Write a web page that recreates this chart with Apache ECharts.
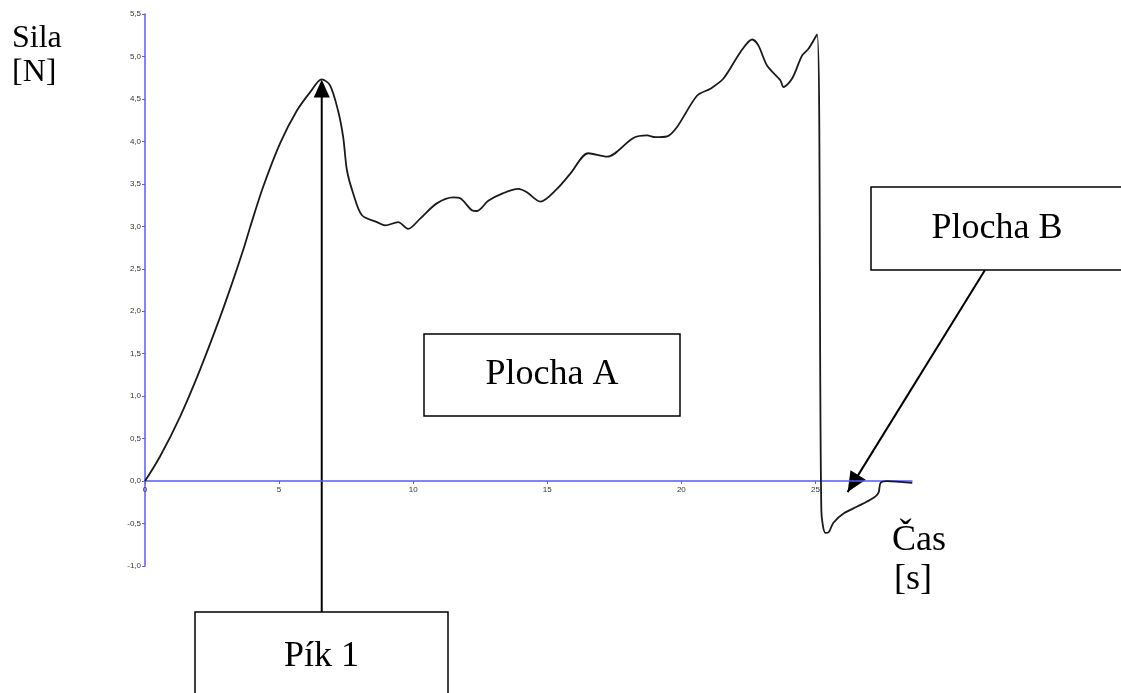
<!DOCTYPE html>
<html>
<head>
<meta charset="utf-8">
<script src="https://cdn.jsdelivr.net/npm/echarts@6/dist/echarts.min.js"></script>
<style>
  html, body { margin: 0; padding: 0; background: #fff; }
  #chart { width: 1121px; height: 693px; }
</style>
</head>
<body>
<div id="chart"></div>
<script>
// cas [s]
var timeS = [0, 0.56, 1.31, 2.05, 2.80, 3.28, 3.66, 3.92, 4.40, 5.04, 5.66, 6.16, 6.59, 6.90,
  7.20, 7.39, 7.53, 7.76, 8.09, 8.65, 8.96, 9.44, 9.81, 10.26, 10.88, 11.50, 11.75, 12.19,
  12.38, 12.80, 13.36, 13.92, 14.24, 14.74, 15.36, 15.86, 16.53, 17.23, 18.21, 18.72, 19.03,
  19.47, 19.84, 20.59, 21.08, 21.57, 22.20, 22.64, 22.87, 23.20, 23.69, 23.81, 24.13, 24.50,
  24.74, 25.06, 25.22, 25.37, 25.50, 25.67, 26.06, 26.56, 26.93, 27.24, 27.36, 27.43, 27.68,
  28.17, 28.61];
// sila [N]
var forceN = [0, 0.29, 0.76, 1.31, 1.93, 2.36, 2.72, 2.99, 3.46, 3.98, 4.36, 4.58, 4.73, 4.66,
  4.36, 4.05, 3.66, 3.39, 3.13, 3.05, 3.01, 3.05, 2.97, 3.09, 3.27, 3.34, 3.33, 3.19,
  3.18, 3.30, 3.39, 3.44, 3.40, 3.29, 3.44, 3.62, 3.86, 3.82, 4.04, 4.07, 4.05,
  4.06, 4.17, 4.54, 4.62, 4.74, 5.05, 5.20, 5.13, 4.89, 4.72, 4.64, 4.74, 5.01,
  5.09, 5.26, -0.35, -0.61, -0.60, -0.49, -0.38, -0.30, -0.24, -0.18, -0.13, -0.02, 0.0,
  -0.01, -0.02];
var xTicks = [0, 5, 10, 15, 20, 25];

// body grafu, na ktere miri sipky
var peak1 = [6.59, 4.73];
var areaB = [26.2, -0.13];

var axisBlue = '#5a5aff';
var serif = '"Liberation Serif", "DejaVu Serif", serif';

var chart = echarts.init(document.getElementById('chart'));

var points = timeS.map(function (t, i) { return [t, forceN[i]]; });

chart.setOption({
  animation: false,
  grid: { left: 145, top: 14, right: 209, bottom: 127 },
  xAxis: {
    type: 'value',
    min: 0,
    max: 28.6,
    interval: 5,
    position: 'bottom',
    offset: -85,   // osa x lezi na nule (0 je 85 px nad spodkem gridu)
    axisLine: { onZero: false, lineStyle: { color: axisBlue, width: 1.5 } },
    axisTick: { length: 3, lineStyle: { color: axisBlue } },
    splitLine: { show: false },
    axisLabel: {
      margin: 5,
      fontSize: 8,
      color: '#333',
      fontFamily: 'Liberation Sans, sans-serif',
      showMaxLabel: false,
      formatter: function (v) { return xTicks.indexOf(v) >= 0 ? String(v) : ''; }
    }
  },
  yAxis: {
    type: 'value',
    min: -1,
    max: 5.5,
    interval: 0.5,
    axisLine: { show: true, onZero: false, lineStyle: { color: axisBlue, width: 1.5 } },
    axisTick: { show: true, length: 3, lineStyle: { color: axisBlue } },
    splitLine: { show: false },
    axisLabel: {
      margin: 4,
      fontSize: 8,
      color: '#333',
      fontFamily: 'Liberation Sans, sans-serif',
      formatter: function (v) { return v.toFixed(1).replace('.', ','); }
    }
  },
  series: [{
    type: 'line',
    data: points,
    showSymbol: false,
    smooth: 0.3,
    lineStyle: { color: '#1a1a1a', width: 1.8 }
  }]
});

// anotace - krabicky, popisky a sipky
var tip1 = chart.convertToPixel({ gridIndex: 0 }, peak1);
var tipB = chart.convertToPixel({ gridIndex: 0 }, areaB);

function arrowHead(tip, from, len, half) {
  var dx = tip[0] - from[0], dy = tip[1] - from[1];
  var d = Math.sqrt(dx * dx + dy * dy);
  var ux = dx / d, uy = dy / d;
  var bx = tip[0] - ux * len, by = tip[1] - uy * len;
  return [[tip[0], tip[1]], [bx - uy * half, by + ux * half], [bx + uy * half, by - ux * half]];
}

function box(x, y, w, h, label) {
  return [{
    type: 'rect',
    shape: { x: x, y: y, width: w, height: h },
    style: { fill: '#fff', stroke: '#000', lineWidth: 1.5 }
  }, {
    type: 'text',
    x: x + w / 2,
    y: y + h / 2,
    style: { text: label, font: '36px ' + serif, fill: '#000', align: 'center', verticalAlign: 'middle' }
  }];
}

function label(x, y, txt, size) {
  return {
    type: 'text', x: x, y: y,
    style: { text: txt, font: size + 'px ' + serif, fill: '#000', align: 'left', verticalAlign: 'middle' }
  };
}

var start1 = [tip1[0], 612];
var startB = [985, 270];

var graphics = []
  .concat(box(424, 334, 256, 82, 'Plocha A'))
  .concat(box(871, 187, 252, 83, 'Plocha B'))
  .concat(box(195, 612, 253, 90, 'Pík 1'))
  .concat([
    label(12, 39, 'Sila', 32),
    label(12, 73, '[N]', 32),
    label(892, 541, 'Čas', 36),
    label(894, 580, '[s]', 36),
    {
      type: 'line',
      shape: { x1: start1[0], y1: start1[1], x2: tip1[0], y2: tip1[1] + 10 },
      style: { stroke: '#000', lineWidth: 2 }
    },
    { type: 'polygon', shape: { points: arrowHead(tip1, start1, 18, 8) }, style: { fill: '#000' } },
    {
      type: 'line',
      shape: { x1: startB[0], y1: startB[1], x2: tipB[0], y2: tipB[1] },
      style: { stroke: '#000', lineWidth: 2 }
    },
    { type: 'polygon', shape: { points: arrowHead(tipB, startB, 20, 9) }, style: { fill: '#000' } }
  ]);

chart.setOption({ graphic: graphics });
</script>
</body>
</html>
